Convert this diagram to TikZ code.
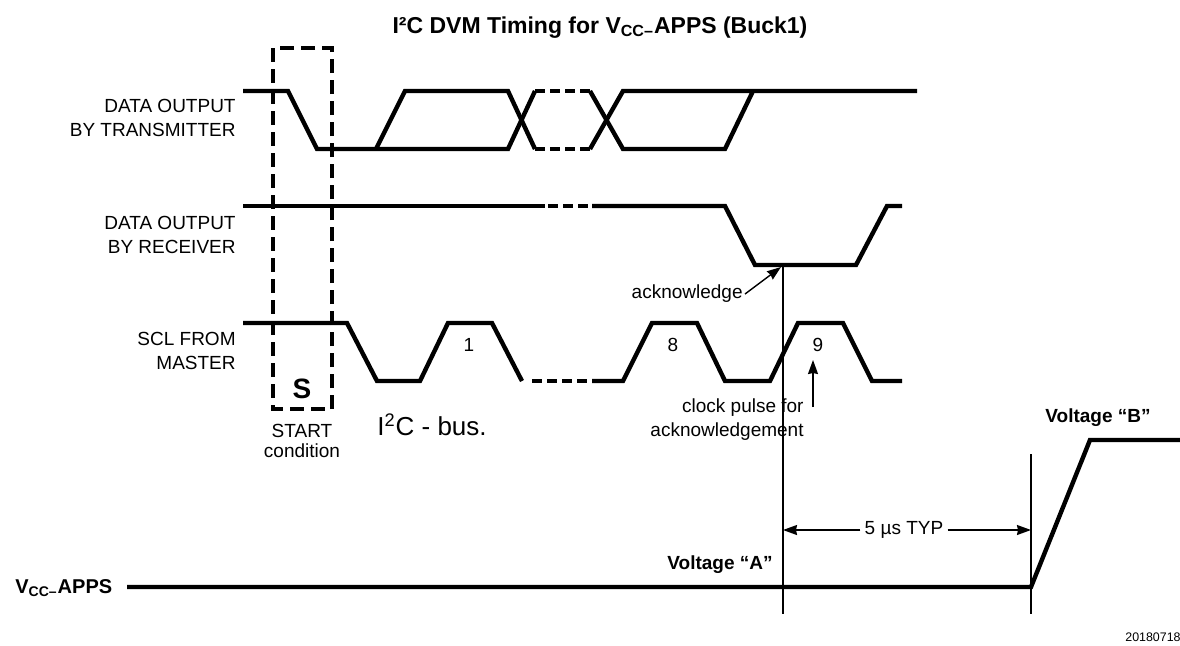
\documentclass[tikz,border=0pt]{standalone}
\usepackage{fontspec}
\setmainfont{Liberation Sans}
\usepackage{tikz}
\usetikzlibrary{arrows.meta, positioning, calc}

\begin{document}
\begin{tikzpicture}[
    x=0.5pt, y=-0.5pt,
    every node/.style={font=\fontsize{9.5}{12}\selectfont, inner sep=1pt},
    wave/.style={line width=2.2pt},
    wavedash/.style={line width=2.2pt, dash pattern=on 5pt off 2.5pt},
    startbox/.style={line width=1.6pt, dash pattern=on 7pt off 3.5pt},
    marker/.style={line width=0.7pt},
    pointer/.style={line width=0.7pt, -{Stealth[length=7pt, width=5pt, inset=0.5pt]}}
]
\useasboundingbox (0,0) rectangle (1180,645);

% Title
\node[font=\bfseries\fontsize{11.5}{14}\selectfont, anchor=base] (title) at (600,33)
    {I²C DVM Timing for V\textsubscript{CC–}APPS (Buck1)};

% Signal names
\node[align=right, anchor=east] (txname) at (238,118) {DATA OUTPUT\\BY TRANSMITTER};
\node[align=right, anchor=east] (rxname) at (238,235) {DATA OUTPUT\\BY RECEIVER};
\node[align=right, anchor=east] (sclname) at (238,351) {SCL FROM\\MASTER};

% Data output by transmitter
\draw[wave] (243,91) -- (288,91) -- (317,149) -- (508,149) -- (535,91);
\draw[wave] (376,149) -- (405,91) -- (508,91) -- (535,149);
\foreach \y in {91,149} {
    \draw[wavedash] (535,\y) -- (590,\y);
}
\draw[wave] (590,91) -- (623,149) -- (725,149) -- (753,91);
\draw[wave] (590,149) -- (623,91) -- (917,91);

% Data output by receiver
\draw[wave] (243,206) -- (545,206);
\draw[wavedash] (548,206) -- (592,206);
\draw[wave] (592,206) -- (725,206) -- (755,265) -- (856,265) -- (887,206) -- (902,206);

% SCL from master
\draw[wave] (243,323) -- (347,323) -- (377,381) -- (420,381) -- (448,323) -- (492,323) -- (522,381);
\draw[wavedash] (532,381) -- (592,381);
\draw[wave] (592,381) -- (623,381) -- (652,323) -- (697,323) -- (725,381) -- (770,381)
    -- (798,323) -- (843,323) -- (872,381) -- (902,381);

% Clock numbers
\foreach \x/\n in {469/1, 673/8, 818/9} {
    \node (bit\n) at (\x,345) {\n};
}

% Start condition
\draw[startbox] (273,48) rectangle (332,409);
\node[font=\bfseries\fontsize{14}{16}\selectfont] (s) at (302,389) {S};
\node[align=center, font=\fontsize{9.5}{10}\selectfont] (startlbl) at (302,441) {START\\condition};
\node[font=\fontsize{13}{15}\selectfont] (bus) at (432,425) {I\textsuperscript{2}C - bus.};

% Acknowledge
\coordinate (ackpt) at (781,267);
\node[anchor=east] (ack) at (745,294) {acknowledge};
\draw[pointer] (ack.east) -- (ackpt);

\node[align=right, anchor=east] (clkpulse) at (806,420) {clock pulse for\\acknowledgement};
\coordinate (clkfoot) at (813,407);
\coordinate (clkhead) at (813,360);
\draw[pointer] (clkfoot) -- (clkhead);

% Marker lines
\coordinate (acktop) at (783,265);
\coordinate (ackbot) at (783,614);
\coordinate (steptop) at (1031,454);
\coordinate (stepbot) at (1031,614);
\draw[marker] (acktop) -- (ackbot);
\draw[marker] (steptop) -- (stepbot);

% Delay
\node[inner sep=2pt] (delay) at (904,530) {5 µs TYP};
\draw[pointer] (delay.west) -- (acktop |- delay);
\draw[pointer] (delay.east) -- (steptop |- delay);

% VCC rail
\node[font=\bfseries\fontsize{10}{12}\selectfont, anchor=base west] (vccname) at (13,593)
    {V\textsubscript{CC–}APPS};
\draw[wave] (127,587) -- (1031,587) -- (1090,440) -- (1180,440);
\node[font=\bfseries\fontsize{9.5}{12}\selectfont] (volta) at (720,565) {Voltage “A”};
\node[font=\bfseries\fontsize{9.5}{12}\selectfont] (voltb) at (1098,418) {Voltage “B”};

% Figure number
\node[font=\fontsize{6.2}{7}\selectfont] (fignum) at (1153,637) {20180718};

\end{tikzpicture}
\end{document}
